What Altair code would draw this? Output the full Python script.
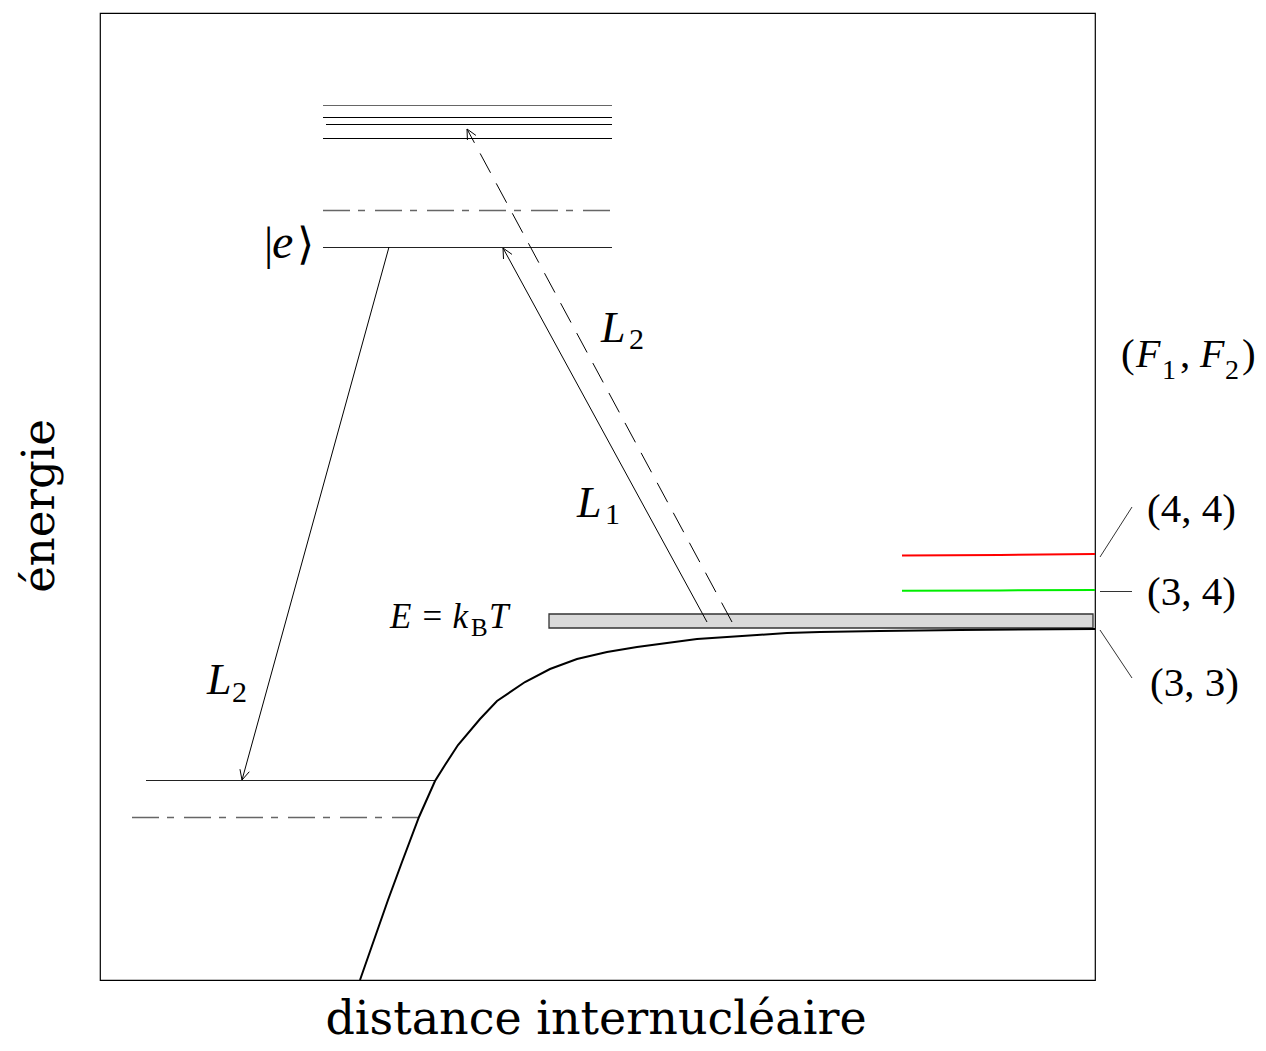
import altair as alt
import numpy as np
import pandas as pd

# ---------------- data (reference units: x = distance, y = energy, drawn top-down) -------------
# solid energy levels: start x, end x, energy
lvl_x0 = [323, 323, 326, 323, 323, 146]
lvl_x1 = [612, 612, 612, 612, 612, 435]
lvl_y = [105.5, 117.5, 124.5, 138.5, 247.5, 780.5]
lvl_col = ["#666666", "#000000", "#000000", "#000000", "#222222", "#222222"]

# dash-dot levels
dd_x0 = [323, 132]
dd_x1 = [612, 420]
dd_y = [210.5, 817.5]

# ground-state potential curve
curve_x = [360, 374, 388, 402, 419, 435, 445, 458, 480, 497, 525, 550, 577, 607,
           637, 667, 697, 727, 757, 787, 820, 880, 960, 1095]
curve_y = [980, 940, 900, 862, 817, 781, 765, 745, 719, 701, 682, 669, 659, 652,
           647, 643, 639, 637, 635, 633, 632, 631, 630, 629]

# hyperfine asymptotes (4,4) red and (3,4) green
red_x = [902, 1000, 1095]
red_y = [555.5, 555.0, 554.0]
green_x = [902, 1000, 1095]
green_y = [590.7, 590.4, 590.0]

# thermal band E = kB T
band_x0, band_x1 = [549], [1093]
band_y0, band_y1 = [614], [628]

# laser arrows: start -> tip
arr_x0 = [389, 707, 732]
arr_y0 = [247, 622, 622]
arr_x1 = [242, 503, 467]
arr_y1 = [780, 248, 129]
arr_dashed = [False, False, True]

# leader lines to the (F1, F2) labels
lead_x0 = [1100, 1100, 1100]
lead_y0 = [557, 591.5, 630]
lead_x1 = [1132, 1132, 1132]
lead_y1 = [507, 591.5, 678]

# text pieces
it_text = ["L", "L", "L", "E = k", "T", "F", "F", "e"]
it_x = [207, 601, 577, 390, 489, 1136, 1200, 272]
it_y = [694, 342, 517, 628, 628, 367, 367, 258]
it_size = [44, 44, 44, 35, 35, 40, 40, 48]

up_text = ["2", "2", "1", "B", "(4, 4)", "(3, 4)", "(3, 3)", "(", "1", ",", "2", ")", "|"]
up_x = [232, 629, 605, 471, 1147, 1147, 1150, 1121, 1162, 1180, 1225, 1242, 264]
up_y = [702, 349, 524, 636, 522, 605, 696, 367, 379, 367, 379, 367, 259]
up_size = [30, 30, 30, 25, 41, 41, 41, 41, 28, 41, 28, 41, 46]

ket_text = ["\u27e9"]
ket_x = [297]
ket_y = [259]
ket_size = [44]

# ---------------- derived tables ----------------
xs = alt.Scale(domain=[100, 1095], nice=False, zero=False)
ys = alt.Scale(domain=[980, 13], nice=False, zero=False)


def X(f):
    return alt.X(f, type="quantitative", scale=xs, axis=None)


def Y(f):
    return alt.Y(f, type="quantitative", scale=ys, axis=None)


lvl = pd.DataFrame({"x0": lvl_x0, "x1": lvl_x1, "y": lvl_y, "c": lvl_col})
dd = pd.DataFrame({"x0": dd_x0, "x1": dd_x1, "y": dd_y})
curve = pd.DataFrame({"x": curve_x, "y": curve_y, "o": range(len(curve_x))})
red = pd.DataFrame({"x": red_x, "y": red_y, "o": range(len(red_x))})
green = pd.DataFrame({"x": green_x, "y": green_y, "o": range(len(green_x))})
band = pd.DataFrame({"x0": band_x0, "x1": band_x1, "y0": band_y0, "y1": band_y1})
arr = pd.DataFrame({"x0": arr_x0, "y0": arr_y0, "x1": arr_x1, "y1": arr_y1, "d": arr_dashed})
lead = pd.DataFrame({"x0": lead_x0, "y0": lead_y0, "x1": lead_x1, "y1": lead_y1})

# arrowhead wings (open chevrons) derived from the arrow direction
head_len, head_ang = 11.0, np.deg2rad(26)
wings = []
for x0, y0, x1, y1 in zip(arr_x0, arr_y0, arr_x1, arr_y1):
    d = np.array([x1 - x0, y1 - y0], dtype=float)
    d /= np.linalg.norm(d)
    for s in (1, -1):
        c, sn = np.cos(s * head_ang), np.sin(s * head_ang)
        r = np.array([c * d[0] - sn * d[1], sn * d[0] + c * d[1]])
        wings.append({"x0": x1, "y0": y1, "x1": x1 - head_len * r[0], "y1": y1 - head_len * r[1]})
wings = pd.DataFrame(wings)

it = pd.DataFrame({"t": it_text, "x": it_x, "y": it_y, "s": it_size})
up = pd.DataFrame({"t": up_text, "x": up_x, "y": up_y, "s": up_size})
ket = pd.DataFrame({"t": ket_text, "x": ket_x, "y": ket_y, "s": ket_size})
xlab = pd.DataFrame({"t": ["distance internucléaire"], "x": [596], "y": [1034]})
ylab = pd.DataFrame({"t": ["énergie"], "x": [54], "y": [506]})

# ---------------- layers ----------------
levels = alt.Chart(lvl).mark_rule(strokeWidth=1.1).encode(
    x=X("x0"), x2="x1", y=Y("y"), color=alt.Color("c:N", scale=None))
dashdot = alt.Chart(dd).mark_rule(strokeWidth=1.5, color="#666666", strokeDash=[27, 8, 7, 10]).encode(
    x=X("x0"), x2="x1", y=Y("y"))
band_l = alt.Chart(band).mark_rect(fill="#d9d9d9", stroke="#333333", strokeWidth=1.3).encode(
    x=X("x0"), x2="x1", y=Y("y0"), y2="y1")
curve_l = alt.Chart(curve).mark_line(color="black", strokeWidth=2).encode(
    x=X("x"), y=Y("y"), order="o:Q")
red_l = alt.Chart(red).mark_line(color="#ff0000", strokeWidth=2).encode(x=X("x"), y=Y("y"), order="o:Q")
green_l = alt.Chart(green).mark_line(color="#00ee00", strokeWidth=2).encode(x=X("x"), y=Y("y"), order="o:Q")
arr_solid = alt.Chart(arr[~arr.d]).mark_rule(color="black", strokeWidth=1).encode(
    x=X("x0"), y=Y("y0"), x2="x1", y2="y1")
arr_dash = alt.Chart(arr[arr.d]).mark_rule(color="black", strokeWidth=1, strokeDash=[22, 12]).encode(
    x=X("x0"), y=Y("y0"), x2="x1", y2="y1")
heads = alt.Chart(wings).mark_rule(color="black", strokeWidth=1).encode(
    x=X("x0"), y=Y("y0"), x2="x1", y2="y1")
leads = alt.Chart(lead).mark_rule(color="#333333", strokeWidth=1).encode(
    x=X("x0"), y=Y("y0"), x2="x1", y2="y1")

it_l = alt.Chart(it).mark_text(font="Liberation Serif", fontStyle="italic", align="left",
                               baseline="alphabetic", color="black").encode(
    x=X("x"), y=Y("y"), text="t:N", size=alt.Size("s:Q", scale=None))
up_l = alt.Chart(up).mark_text(font="Liberation Serif", align="left",
                               baseline="alphabetic", color="black").encode(
    x=X("x"), y=Y("y"), text="t:N", size=alt.Size("s:Q", scale=None))
ket_l = alt.Chart(ket).mark_text(font="DejaVu Sans", fontWeight=200, align="left",
                                 baseline="alphabetic", color="black").encode(
    x=X("x"), y=Y("y"), text="t:N", size=alt.Size("s:Q", scale=None))
xlab_l = alt.Chart(xlab).mark_text(font="DejaVu Serif", fontSize=46, align="center",
                                   baseline="alphabetic", color="black").encode(
    x=X("x"), y=Y("y"), text="t:N")
ylab_l = alt.Chart(ylab).mark_text(font="DejaVu Serif", fontSize=45, align="center",
                                   baseline="alphabetic", angle=270, color="black").encode(
    x=X("x"), y=Y("y"), text="t:N")

chart = alt.layer(
    band_l, levels, dashdot, curve_l, red_l, green_l, arr_solid, arr_dash, heads, leads,
    it_l, up_l, ket_l, xlab_l, ylab_l
).properties(
    width=995, height=967,
    padding={"left": 92, "top": 5, "right": 163, "bottom": 70},
    autosize=alt.AutoSizeParams(type="none"),
).configure(
    background="white",
    view=alt.ViewConfig(stroke="black", strokeWidth=1.2),
)

chart.save("out.html", embed_options={"renderer": "svg", "actions": False})
